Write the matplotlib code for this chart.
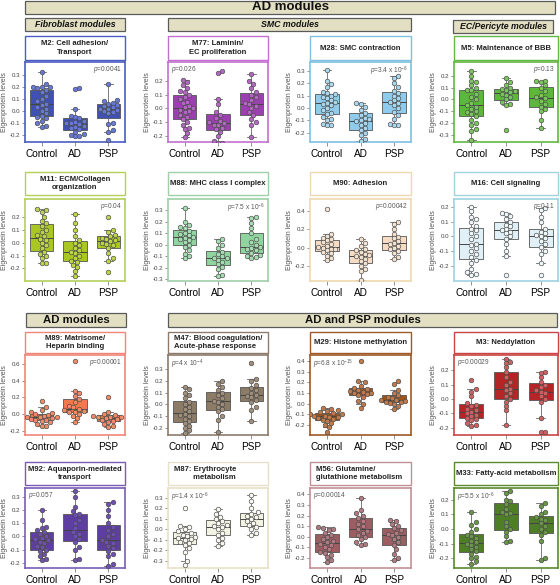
import numpy as np
import matplotlib
matplotlib.use('Agg')
import matplotlib.pyplot as plt
from matplotlib.patches import Rectangle
from matplotlib.ticker import FormatStrFormatter

plt.rcParams['font.family'] = ['Liberation Sans', 'DejaVu Sans']
plt.rcParams['mathtext.fontset'] = 'custom'
plt.rcParams['mathtext.rm'] = 'Liberation Sans'
plt.rcParams['mathtext.it'] = 'Liberation Sans:italic'
plt.rcParams['axes.unicode_minus'] = False

groups = ['Control', 'AD', 'PSP']

# eigenprotein levels per module: [Control, AD, PSP]
m2 = [[0.32, 0.22, 0.2, 0.2, 0.2, 0.19, 0.17, 0.16, 0.12, 0.1, 0.08, 0.06, 0.05, 0.03, 0.02, 0.0, -0.02, -0.04, -0.05, -0.06, -0.08, -0.1, -0.12, -0.13],
      [0.19, 0.18, 0.02, -0.04, -0.05, -0.06, -0.08, -0.09, -0.1, -0.1, -0.11, -0.12, -0.13, -0.14, -0.15, -0.17, -0.19, -0.2, -0.21, -0.21],
      [0.22, 0.09, 0.08, 0.07, 0.06, 0.05, 0.04, 0.03, 0.02, 0.02, 0.01, 0.0, -0.01, -0.02, -0.1, -0.11, -0.16, -0.17, -0.24]]
m77 = [[0.21, 0.19, 0.17, 0.15, 0.13, 0.12, 0.1, 0.08, 0.07, 0.05, 0.04, 0.02, 0.01, 0.0, -0.01, -0.02, -0.03, -0.05, -0.06, -0.08, -0.1, -0.12, -0.14, -0.15, -0.18, -0.21],
       [0.27, 0.26, 0.07, 0.03, -0.03, -0.05, -0.07, -0.09, -0.1, -0.11, -0.12, -0.12, -0.14, -0.15, -0.17, -0.2, -0.24, -0.25, -0.25],
       [0.25, 0.2, 0.18, 0.15, 0.12, 0.1, 0.08, 0.06, 0.04, 0.03, 0.02, 0.0, -0.03, -0.05, -0.08, -0.1, -0.12, -0.21]]
m28 = [[0.31, 0.22, 0.19, 0.17, 0.13, 0.12, 0.11, 0.1, 0.09, 0.08, 0.06, 0.05, 0.04, 0.03, 0.02, 0.0, -0.02, -0.04, -0.05, -0.07, -0.09, -0.1, -0.13, -0.14, -0.14],
       [0.04, 0.03, 0.01, -0.02, -0.04, -0.06, -0.08, -0.09, -0.1, -0.11, -0.12, -0.14, -0.16, -0.18, -0.2, -0.22, -0.25, -0.27],
       [0.26, 0.24, 0.2, 0.17, 0.14, 0.12, 0.1, 0.08, 0.06, 0.05, 0.04, 0.02, 0.0, -0.03, -0.06, -0.09, -0.13, -0.14, -0.14]]
m5 = [[0.24, 0.2, 0.16, 0.15, 0.12, 0.1, 0.08, 0.08, 0.05, 0.02, 0.0, -0.03, -0.05, -0.06, -0.08, -0.1, -0.11, -0.12, -0.14, -0.17, -0.2, -0.22, -0.25, -0.27, -0.34],
      [0.18, 0.15, 0.12, 0.1, 0.09, 0.08, 0.07, 0.06, 0.05, 0.04, 0.02, 0.0, -0.02, -0.04, -0.05, -0.26],
      [0.16, 0.16, 0.15, 0.12, 0.1, 0.07, 0.04, 0.02, 0.01, -0.01, -0.04, -0.06, -0.08, -0.1, -0.17, -0.24]]
m11 = [[0.26, 0.25, 0.24, 0.2, 0.17, 0.15, 0.13, 0.1, 0.08, 0.06, 0.05, 0.03, 0.02, 0.0, -0.02, -0.04, -0.07, -0.09, -0.1, -0.12, -0.16, -0.16],
       [0.22, 0.15, 0.1, 0.05, 0.02, 0.0, -0.02, -0.04, -0.06, -0.07, -0.08, -0.1, -0.12, -0.14, -0.15, -0.17, -0.19, -0.22, -0.26],
       [0.2, 0.1, 0.08, 0.06, 0.05, 0.04, 0.03, 0.02, 0.01, 0.0, -0.01, -0.02, -0.04, -0.08, -0.12, -0.14, -0.23]]
m88 = [[0.32, 0.2, 0.17, 0.15, 0.14, 0.12, 0.1, 0.09, 0.08, 0.07, 0.06, 0.05, 0.04, 0.02, 0.0, -0.02, -0.05, -0.08, -0.1, -0.12],
       [0.05, 0.03, 0.0, -0.03, -0.06, -0.08, -0.1, -0.12, -0.12, -0.13, -0.15, -0.17, -0.19, -0.21, -0.26, -0.27],
       [0.24, 0.23, 0.19, 0.14, 0.1, 0.05, 0.02, 0.0, -0.02, -0.03, -0.04, -0.05, -0.07, -0.09, -0.1, -0.11, -0.12]]
m90 = [[0.42, 0.15, 0.13, 0.11, 0.09, 0.08, 0.06, 0.04, 0.02, 0.01, 0.0, -0.01, -0.02, -0.03, -0.05, -0.06, -0.09, -0.11, -0.14],
       [0.09, 0.05, 0.02, -0.01, -0.03, -0.05, -0.07, -0.08, -0.09, -0.1, -0.12, -0.15, -0.17, -0.2, -0.23, -0.26, -0.35],
       [0.28, 0.26, 0.2, 0.15, 0.12, 0.1, 0.07, 0.05, 0.04, 0.02, 0.0, -0.02, -0.04, -0.06, -0.1, -0.12]]
m16 = [[0.2, 0.17, 0.13, 0.12, 0.1, 0.07, 0.05, 0.04, 0.02, 0.0, -0.02, -0.05, -0.06, -0.08, -0.1, -0.12, -0.14, -0.16, -0.18, -0.22, -0.24, -0.25, -0.26],
       [0.16, 0.15, 0.14, 0.12, 0.1, 0.08, 0.07, 0.05, 0.04, 0.03, 0.02, 0.0, -0.02, -0.05, -0.1, -0.13, -0.26],
       [0.19, 0.18, 0.13, 0.1, 0.05, 0.03, 0.02, 0.01, 0.0, -0.01, -0.03, -0.05, -0.07, -0.1, -0.12, -0.18, -0.26]]
m89 = [[0.16, 0.08, 0.05, 0.02, 0.01, 0.0, -0.01, -0.02, -0.03, -0.03, -0.04, -0.05, -0.06, -0.07, -0.07, -0.08, -0.1, -0.12, -0.14, -0.15],
       [0.64, 0.28, 0.26, 0.22, 0.18, 0.15, 0.1, 0.08, 0.06, 0.05, 0.04, 0.03, 0.02, 0.0, -0.02, -0.05, -0.1],
       [0.21, 0.02, 0.0, -0.01, -0.02, -0.03, -0.04, -0.04, -0.05, -0.06, -0.07, -0.08, -0.1, -0.12, -0.14, -0.16]]
m47 = [[0.15, 0.13, 0.1, 0.08, 0.05, 0.02, 0.0, -0.02, -0.04, -0.06, -0.08, -0.09, -0.1, -0.12, -0.14, -0.16, -0.18, -0.2, -0.22, -0.24],
       [0.2, 0.17, 0.15, 0.12, 0.1, 0.08, 0.05, 0.03, 0.02, 0.0, -0.02, -0.04, -0.06, -0.1, -0.13, -0.23],
       [0.35, 0.21, 0.2, 0.16, 0.14, 0.12, 0.1, 0.08, 0.07, 0.06, 0.04, 0.02, -0.02, -0.05, -0.14]]
m29 = [[-0.04, -0.05, -0.06, -0.07, -0.08, -0.09, -0.1, -0.1, -0.11, -0.11, -0.12, -0.12, -0.13, -0.14, -0.15, -0.16, -0.18, -0.2, -0.22, -0.26],
       [0.4, 0.21, 0.2, 0.17, 0.15, 0.14, 0.13, 0.12, 0.11, 0.1, 0.1, 0.09, 0.08, 0.06, 0.03, 0.0, -0.04],
       [0.21, 0.19, 0.13, 0.1, 0.08, 0.06, 0.05, 0.04, 0.04, 0.03, 0.02, 0.02, 0.01, 0.0, -0.02, -0.05]]
m3 = [[0.13, 0.07, 0.05, 0.02, -0.03, -0.04, -0.05, -0.07, -0.08, -0.09, -0.1, -0.11, -0.12, -0.13, -0.14, -0.15, -0.17, -0.18, -0.19],
      [0.28, 0.26, 0.25, 0.22, 0.19, 0.15, 0.12, 0.1, 0.07, 0.06, 0.04, 0.02, 0.0, -0.02, -0.05, -0.08, -0.18],
      [0.19, 0.18, 0.15, 0.12, 0.1, 0.08, 0.06, 0.05, 0.04, 0.02, 0.0, -0.02, -0.13, -0.23, -0.23]]
m92 = [[0.2, 0.12, 0.07, 0.06, 0.05, 0.03, 0.02, 0.0, -0.01, -0.02, -0.03, -0.04, -0.05, -0.07, -0.08, -0.1, -0.11, -0.13, -0.15, -0.17, -0.18],
       [0.34, 0.3, 0.22, 0.19, 0.17, 0.16, 0.12, 0.1, 0.06, 0.03, 0.02, 0.0, -0.02, -0.04, -0.08, -0.1, -0.17, -0.18],
       [0.26, 0.24, 0.2, 0.15, 0.1, 0.07, 0.05, 0.02, 0.0, -0.03, -0.04, -0.05, -0.07, -0.09, -0.11, -0.13, -0.15, -0.21, -0.22]]
m87 = [[0.2, 0.03, 0.02, 0.0, -0.02, -0.03, -0.05, -0.06, -0.07, -0.08, -0.09, -0.1, -0.12, -0.13, -0.15, -0.18, -0.21, -0.3, -0.34],
       [0.19, 0.15, 0.12, 0.1, 0.08, 0.06, 0.04, 0.03, 0.02, 0.0, -0.03, -0.05, -0.08, -0.1, -0.13, -0.16],
       [0.33, 0.27, 0.2, 0.16, 0.15, 0.13, 0.12, 0.1, 0.08, 0.06, 0.04, 0.02, 0.0, -0.03, -0.05]]
m56 = [[0.09, 0.08, 0.07, 0.06, 0.04, 0.02, 0.0, -0.02, -0.04, -0.05, -0.07, -0.08, -0.1, -0.12, -0.14, -0.15, -0.17, -0.19, -0.22, -0.24],
       [0.37, 0.25, 0.22, 0.2, 0.18, 0.15, 0.12, 0.1, 0.07, 0.05, 0.04, 0.02, 0.0, -0.02, -0.05, -0.07, -0.08],
       [0.16, 0.15, 0.12, 0.1, 0.08, 0.06, 0.04, 0.03, 0.02, 0.0, -0.02, -0.05, -0.08, -0.12, -0.16, -0.2, -0.22]]
m33 = [[0.12, 0.05, 0.03, 0.0, -0.02, -0.04, -0.05, -0.06, -0.08, -0.09, -0.1, -0.11, -0.12, -0.14, -0.15, -0.17, -0.19, -0.2, -0.22, -0.24],
       [0.26, 0.25, 0.2, 0.19, 0.17, 0.14, 0.12, 0.11, 0.1, 0.05, 0.02, 0.0, -0.02, -0.05, -0.08, -0.09],
       [0.18, 0.16, 0.12, 0.1, 0.08, 0.07, 0.06, 0.04, 0.02, 0.0, -0.02, -0.04, -0.08, -0.2, -0.21]]

titles = ['M2: Cell adhesion/\nTransport', 'M77: Laminin/\nEC proliferation',
          'M28: SMC contraction', 'M5: Maintenance of BBB',
          'M11: ECM/Collagen\norganization', 'M88: MHC class I complex',
          'M90: Adhesion', 'M16: Cell signaling',
          'M89: Matrisome/\nHeparin binding', 'M47: Blood coagulation/\nAcute-phase response',
          'M29: Histone methylation', 'M3: Neddylation',
          'M92: Aquaporin-mediated\ntransport', 'M87: Erythrocyte\n         metabolism',
          'M56: Glutamine/\nglutathione metabolism', 'M33: Fatty-acid metabolism']
pvals = ['0.0041', '0.026', r'3.4 x 10$^{-6}$', '0.13',
         '0.04', r'7.5 x 10$^{-6}$', '0.00042', '0.11',
         '0.00001', r'4 x 10$^{-4}$', r'6.8 x 10$^{-15}$', '0.00029',
         '0.057', r'1.4 x 10$^{-6}$', '0.00014', r'5.5 x 10$^{-6}$']
modules = [m2, m77, m28, m5, m11, m88, m90, m16, m89, m47, m29, m3, m92, m87, m56, m33]

# styling / layout
box_c = ['#3f51b5', '#9c3fb0', '#8fcbed', '#5cb83a', '#a9c623', '#90d4a0', '#f6dcc5', '#e0f0f6',
         '#f2794d', '#8c7b66', '#a15318', '#b52525', '#5e3ea0', '#f3f3e4', '#9c5d63', '#4e7f27']
pt_c = ['#6679d6', '#b466c4', '#a8d8f0', '#7ac65a', '#bcd447', '#a5dcb2', '#f4e2d0', '#eef7fa',
        '#f08a66', '#a08e7a', '#c07a4a', '#d06060', '#6e50b0', '#f8f8f0', '#b07a80', '#6a9648']
frame_c = ['#4b5cc4', '#c26fd0', '#7fc0e0', '#63b843', '#b3d05a', '#9fd0a8', '#efd8b0', '#9fd3e0',
           '#f0857a', '#8c7b6c', '#9e5a28', '#c94545', '#7a5cb6', '#e8dfc8', '#c09096', '#5a8a30']
ylims = [(-0.256, 0.405), (-0.246, 0.339), (-0.276, 0.371), (-0.36, 0.317),
         (-0.297, 0.339), (-0.315, 0.395), (-0.364, 0.53), (-0.30, 0.252),
         (-0.253, 0.713), (-0.258, 0.416), (-0.292, 0.457), (-0.252, 0.306),
         (-0.238, 0.364), (-0.366, 0.392), (-0.295, 0.46), (-0.267, 0.281)]
ystep = [0.1, 0.1, 0.1, 0.1, 0.1, 0.1, 0.2, 0.1, 0.2, 0.1, 0.1, 0.1, 0.1, 0.1, 0.1, 0.1]
p_side = ['r', 'l', 'r', 'r', 'r', 'r', 'r', 'r', 'r', 'l', 'l', 'l', 'l', 'l', 'l', 'l']
t_align = ['center', 'center', 'center', 'center', 'center', 'center', 'center', 'center',
           'center', 'left', 'center', 'center', 'center', 'left', 'left', 'center']

W, H = 560, 585
cols = [(25, 125), (168, 268), (310, 411), (454, 558)]
rows = [((36, 60), (62, 142)), ((172, 195), (199, 281)),
        ((332, 353), (355, 435)), ((462, 485), (488, 568))]

fig = plt.figure(figsize=(W / 100, H / 100), dpi=100)


def frect(x0, y0, x1, y1, **kw):
    r = Rectangle((x0 / W, 1 - y1 / H), (x1 - x0) / W, (y1 - y0) / H,
                  transform=fig.transFigure, **kw)
    fig.add_artist(r)


def header(x0, y0, x1, y1, text, size, style='normal'):
    frect(x0, y0, x1, y1, facecolor='#e2dfc2', edgecolor='#5a5a5a', lw=0.9)
    fig.text((x0 + x1) / 2 / W, 1 - (y0 + y1) / 2 / H, text, ha='center', va='center',
             fontsize=size, fontweight='bold', style=style, color='#111')


def swarm(vals, pos, lo, hi, hpx, wpx, d=4.3):
    ppy = hpx / (hi - lo)
    ppx = wpx / 3.0
    vals = np.asarray(vals)
    xs = np.zeros(len(vals))
    placed = []
    for i in np.argsort(vals):
        y = vals[i] * ppy
        off = 0.0
        for k in range(60):
            cands = [0.0] if k == 0 else [k * 0.5 * d, -k * 0.5 * d]
            ok = [c for c in cands if all((c - px) ** 2 + (y - py) ** 2 >= d * d for px, py in placed)]
            if ok:
                off = ok[0]
                break
        placed.append((off, y))
        xs[i] = pos + off / ppx
    return xs


header(25, 1, 555, 14, 'AD modules', 9.5)
header(25, 18, 125, 31, 'Fibroblast modules', 6.3, 'italic')
header(168, 18, 411, 31, 'SMC modules', 6.3, 'italic')
header(453, 20, 553, 33, 'EC/Pericyte modules', 6.3, 'italic')
header(26, 313, 126, 327, 'AD modules', 8.2)
header(168, 313, 557, 327, 'AD and PSP modules', 8.2)

for idx, vals in enumerate(modules):
    r, c = divmod(idx, 4)
    (ty0, ty1), (py0, py1) = rows[r]
    x0, x1 = cols[c]
    # title box
    frect(x0, ty0, x1, ty1, facecolor='white', edgecolor=frame_c[idx], lw=1.0)
    if t_align[idx] == 'left':
        fig.text((x0 + 6) / W, 1 - (ty0 + ty1) / 2 / H, titles[idx], ha='left', va='center',
                 fontsize=5.5, fontweight='bold', color='#222', linespacing=1.3)
    else:
        fig.text((x0 + x1) / 2 / W, 1 - (ty0 + ty1) / 2 / H, titles[idx], ha='center', va='center',
                 fontsize=5.5, fontweight='bold', color='#222', multialignment='center', linespacing=1.3)

    ax = fig.add_axes([x0 / W, 1 - py1 / H, (x1 - x0) / W, (py1 - py0) / H])
    lo, hi = ylims[idx]
    ax.boxplot(vals, positions=[1, 2, 3], widths=0.7, patch_artist=True, showfliers=False,
               whis=1.5, capwidths=0.25,
               boxprops=dict(facecolor=box_c[idx], edgecolor='#555555', lw=0.6),
               medianprops=dict(color='#444444', lw=0.7),
               whiskerprops=dict(color='#666666', lw=0.6),
               capprops=dict(color='#666666', lw=0.6))
    for k, v in enumerate(vals):
        xs = swarm(v, k + 1, lo, hi, py1 - py0, x1 - x0)
        ax.scatter(xs, v, s=11, facecolor=pt_c[idx], edgecolor='#4a4a4a', lw=0.45, zorder=3)

    ax.set_xlim(0.5, 3.5)
    ax.set_ylim(lo, hi)
    st = ystep[idx]
    ticks = np.arange(np.ceil(lo / st) * st, hi, st)
    ticks = ticks[ticks <= hi - 0.05]
    ax.set_yticks(np.round(ticks, 2))
    ax.yaxis.set_major_formatter(FormatStrFormatter('%.1f'))
    ax.set_xticks([1, 2, 3])
    ax.set_xticklabels(groups)
    ax.tick_params(axis='y', labelsize=4.4, length=2.2, width=0.5, color='#666', labelcolor='#444', pad=1)
    ax.tick_params(axis='x', labelsize=7.2, length=3, width=0.5, color='#666', pad=2)
    ax.set_ylabel('Eigenprotein levels', fontsize=5, color='#555', labelpad=1.5)
    for s in ax.spines.values():
        s.set_color(frame_c[idx])
        s.set_linewidth(1.2)
    ptxt = '$p$=' + pvals[idx]
    if p_side[idx] == 'r':
        ax.text(0.97, 0.97, ptxt, transform=ax.transAxes, ha='right', va='top', fontsize=4.7, color='#555')
    else:
        ax.text(0.03, 0.97, ptxt, transform=ax.transAxes, ha='left', va='top', fontsize=4.7, color='#555')

fig.savefig('out.png', dpi=100)
